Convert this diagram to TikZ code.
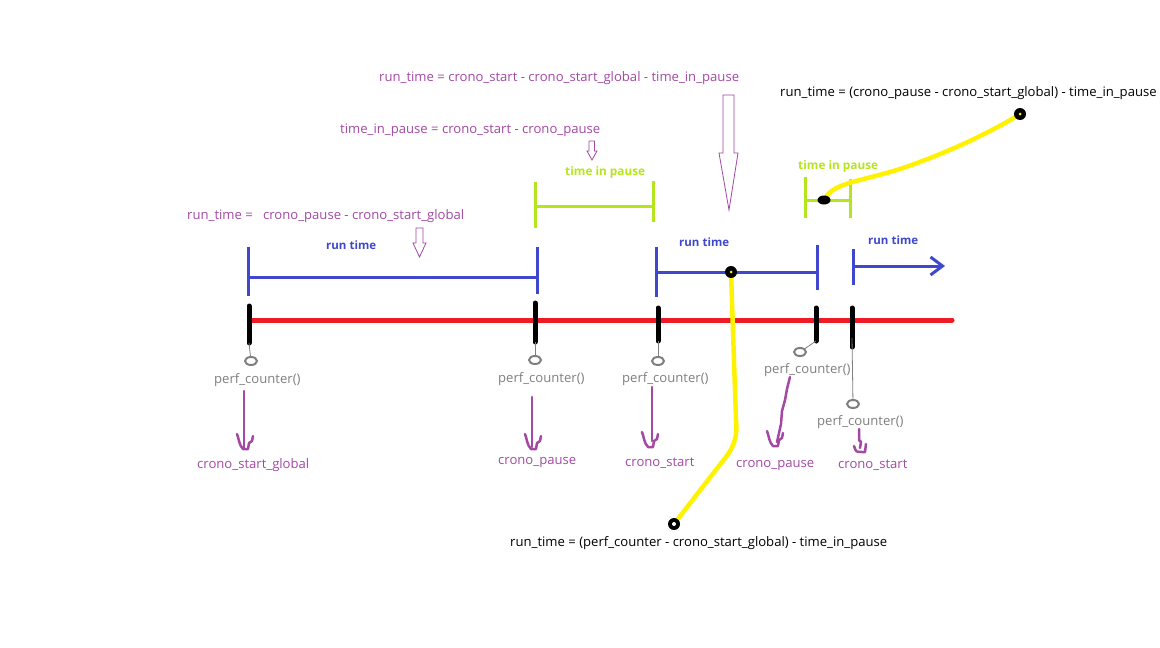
\documentclass[tikz,border=0pt]{standalone}
\usepackage{fontspec}
\setmainfont{Open Sans}
\usetikzlibrary{shapes.geometric,arrows.meta}
\definecolor{pp}{HTML}{A349A4}
\definecolor{bl}{HTML}{3F48CC}
\definecolor{gr}{HTML}{B5E61D}
\definecolor{rd}{HTML}{ED1C24}
\definecolor{yl}{HTML}{FFF200}
\definecolor{gy}{HTML}{7F7F7F}
\tikzset{
  txt/.style={inner sep=0pt, anchor=west, font=\fontsize{13.1}{15}\selectfont},
  ptxt/.style={txt, text=pp},
  gtxt/.style={txt, text=gy},
  ktxt/.style={txt, text=black},
  btxt/.style={txt, text=bl, font=\fontsize{11.5}{13}\selectfont\bfseries},
  ltxt/.style={txt, text=gr, font=\fontsize{11.8}{13}\selectfont\bfseries},
  redline/.style={draw=rd, line width=5pt, line cap=round},
  ticker/.style={draw=black, line width=5pt, line cap=round},
  blueline/.style={draw=bl, line width=3pt},
  greenline/.style={draw=gr, line width=3pt},
  yline/.style={draw=yl, line width=4.5pt, line cap=round},
  thin/.style={draw=gy, line width=0.8pt},
  gdot/.style={ellipse, draw=gy, line width=2pt, minimum width=12pt, minimum height=8pt, inner sep=0pt},
  bdot/.style={circle, fill=black, minimum size=12pt, inner sep=0pt},
  bell/.style={ellipse, fill=black, minimum width=13pt, minimum height=9pt, inner sep=0pt},
  parrow/.style={draw=pp, line width=2.5pt, line cap=round, line join=round},
  hollow/.style={draw=pp, line width=0.8pt},
  hhead/.pic={\draw[parrow] (-8,-15) .. controls (-6,-10) and (-6,-4) .. (-2,0) -- (3,0) -- (4,-6) -- (7,-8) -- (8,-13);}
}
\begin{document}
\begin{tikzpicture}[x=1pt,y=-1pt]
\useasboundingbox (0,0) rectangle (1160,648);
\fill[white] (0,0) rectangle (1160,648);

% red time line
\coordinate (rl) at (250,320);
\coordinate (rr) at (952,320);
\draw[redline] (rl) -- (rr);

% black ticks
\coordinate (k1t) at (249,306); \coordinate (k1b) at (249,343);
\coordinate (k2t) at (535,303); \coordinate (k2b) at (535,342);
\coordinate (k3t) at (658,308); \coordinate (k3b) at (658,341);
\coordinate (k4t) at (816,308); \coordinate (k4b) at (816,341);
\coordinate (k5t) at (852,308); \coordinate (k5b) at (852,347);
\foreach \i in {1,...,5} {\draw[ticker] (k\i t) -- (k\i b);}

% gray ellipses and thin stems
\node[gdot] (e1) at (251,361) {};
\node[gdot] (e2) at (535,360) {};
\node[gdot] (e3) at (658,361) {};
\node[gdot] (e4) at (800,352) {};
\node[gdot] (e5) at (853,404) {};
\draw[thin] (k1b) -- (e1);
\draw[thin] (k2b) -- (e2);
\draw[thin] (k3b) -- (e3);
\draw[thin] (k4b) -- (e4);
\draw[thin] (852,338) -- (e5);

% perf_counter labels
\node[gtxt] (p1) at (214,380) {perf\_counter()};
\node[gtxt] (p2) at (498,379) {perf\_counter()};
\node[gtxt] (p3) at (622,379) {perf\_counter()};
\node[gtxt] (p4) at (764,370) {perf\_counter()};
\node[gtxt] (p5) at (817,422) {perf\_counter()};

% purple hand-drawn arrows
\coordinate (a1t) at (244,391); \coordinate (a1b) at (244,448);
\draw[parrow] (a1t) -- (a1b);
\pic at (245,449) {hhead};
\coordinate (a2t) at (532,397); \coordinate (a2b) at (532,447);
\draw[parrow] (a2t) -- (a2b);
\pic at (533,449) {hhead};
\coordinate (a3t) at (652,387); \coordinate (a3b) at (652,441);
\draw[parrow] (a3t) -- (a3b);
\pic at (650,447) {hhead};
\coordinate (a4t) at (790,377); \coordinate (a4b) at (777,442);
\draw[parrow] (a4t) -- (787,389) -- (785,400) -- (782,411) -- (781,424) -- (a4b);
\pic at (775,446) {hhead};
\coordinate (a5t) at (859,429); \coordinate (a5b) at (860,448);
\draw[parrow] (a5t) -- (859,440) -- (861,442) -- (a5b);
\draw[parrow] (854,446) .. controls (856,452) .. (862,452) -- (865,452) -- (866,444);

% purple value labels
\node[ptxt] (c1) at (197,465) {crono\_start\_global};
\node[ptxt] (c2) at (498,462) {crono\_pause};
\node[ptxt] (c3) at (625,463) {crono\_start};
\node[ptxt] (c4) at (736,465) {crono\_pause};
\node[ptxt] (c5) at (838,465) {crono\_start};

% blue run-time segments
\coordinate (b1a) at (248,247); \coordinate (b1b) at (248,296);
\coordinate (b1c) at (537,247); \coordinate (b1d) at (537,294);
\draw[blueline] (b1a) -- (b1b);
\draw[blueline] (b1c) -- (b1d);
\draw[blueline] (248,277) -- (537,277);
\node[btxt] (r1) at (326,245) {run time};

\coordinate (b2a) at (656,247); \coordinate (b2b) at (656,297);
\coordinate (b2c) at (817,245); \coordinate (b2d) at (817,290);
\draw[blueline] (b2a) -- (b2b);
\draw[blueline] (b2c) -- (b2d);
\draw[blueline] (656,272) -- (817,272);
\node[btxt] (r2) at (679,242) {run time};

\coordinate (b3a) at (853,249); \coordinate (b3b) at (853,285);
\coordinate (b3e) at (945,266);
\draw[blueline] (b3a) -- (b3b);
\draw[blueline, -{Straight Barb[length=12pt,width=18pt,line width=3pt]}] (853,266) -- (b3e);
\node[btxt] (r3) at (868,240) {run time};

% green pause segments
\coordinate (g1a) at (535,182); \coordinate (g1b) at (535,228);
\coordinate (g1c) at (653,181); \coordinate (g1d) at (653,222);
\draw[greenline] (g1a) -- (g1b);
\draw[greenline] (g1c) -- (g1d);
\draw[greenline] (535,206) -- (655,206);
\node[ltxt] (t1) at (565,172) {time in pause};

\coordinate (g2a) at (805,177); \coordinate (g2b) at (805,218);
\coordinate (g2c) at (850,179); \coordinate (g2d) at (850,218);
\draw[greenline] (g2a) -- (g2b);
\draw[greenline] (g2c) -- (g2d);
\draw[greenline] (805,200) -- (850,200);
\node[ltxt] (t2) at (798,166) {time in pause};

% hollow purple arrows
\draw[hollow] (723,95) -- (734,95) -- (734,153) -- (738,153) -- (729,210) -- (719,153) -- (723,153) -- cycle;
\draw[hollow] (589,141) -- (594.5,141) -- (594.5,151) -- (597,151) -- (592,160) -- (587,151) -- (589,151) -- cycle;
\draw[hollow] (416,228) -- (423,228) -- (423,243) -- (426,243) -- (419.5,257) -- (413,243) -- (416,243) -- cycle;

% formulas
\node[ptxt] (f1) at (379,78) {run\_time = crono\_start - crono\_start\_global - time\_in\_pause};
\node[ptxt] (f2) at (340,130) {time\_in\_pause = crono\_start - crono\_pause};
\node[ptxt] (f3) at (187,216) {run\_time = \ \ crono\_pause - crono\_start\_global};
\node[ktxt] (f4) at (780,93) {run\_time = (crono\_pause - crono\_start\_global) - time\_in\_pause};
\node[ktxt] (f5) at (510,543) {run\_time = (perf\_counter - crono\_start\_global) - time\_in\_pause};

% yellow leader lines
\coordinate (y1) at (731,272);
\coordinate (y2) at (674,524);
\coordinate (y3) at (824,200);
\coordinate (y4) at (1020,114);
\draw[yline] (y1) -- (736,420) .. controls (738,440) and (732,450) .. (722,462) -- (y2);
\draw[yline] (y3) .. controls (833,182) and (860,182) .. (903,168) .. controls (950,152) and (995,130) .. (y4);

\node[bdot] (d1) at (y1) {};
\fill[yl] (d1.center) circle (1.5);
\node[bdot] (d2) at (y2) {};
\fill[white] (d2.center) circle (2);
\node[bell] (d3) at (y3) {};
\node[bdot] (d4) at (y4) {};
\fill[yl] (d4.center) circle (1.5);
\end{tikzpicture}
\end{document}
